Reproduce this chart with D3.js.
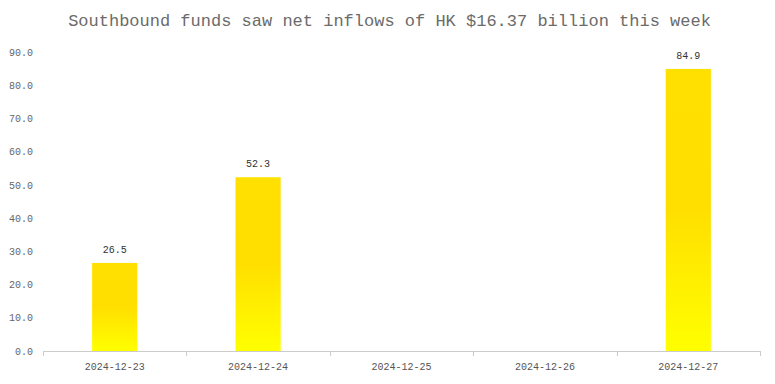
<!DOCTYPE html>
<html><head><meta charset="utf-8">
<script src="https://cdn.jsdelivr.net/npm/d3@7/dist/d3.min.js"></script>
<style>body{margin:0;background:#fff}svg{display:block}</style>
</head><body>
<svg id="c" width="775" height="384"></svg>
<script>
const titleText = "Southbound funds saw net inflows of HK $16.37 billion this week";
const categories = ["2024-12-23","2024-12-24","2024-12-25","2024-12-26","2024-12-27"];
const values = [26.5, 52.3, null, null, 84.9];
const yTicks = [0,10,20,30,40,50,60,70,80,90];

const svg = d3.select("#c");
const mono = "'Liberation Mono','DejaVu Sans Mono',monospace";
const m = {left:43, right:15, top:52, bottom:33};
const W = 775, H = 384;
const x = d3.scaleBand().domain(categories).range([m.left, W - m.right]).paddingInner(0).paddingOuter(0);
const y = d3.scaleLinear().domain([0,90]).range([H - m.bottom, m.top]);

const defs = svg.append("defs");
const g = defs.append("linearGradient").attr("id","gold").attr("x1",0).attr("y1",0).attr("x2",0).attr("y2",1);
g.append("stop").attr("offset","0%").attr("stop-color","#FFE000");
g.append("stop").attr("offset","50%").attr("stop-color","#FFDF00");
g.append("stop").attr("offset","100%").attr("stop-color","#FFFF00");

svg.append("text").attr("x", W/2 + 2).attr("y", 26).attr("text-anchor","middle")
  .attr("font-family", mono).attr("font-size", 17).attr("fill","#6b6b6b").text(titleText);

// y axis labels
const ya = svg.append("g").attr("transform",`translate(${m.left},0)`)
  .call(d3.axisLeft(y).tickValues(yTicks).tickFormat(d3.format(".1f")).tickSize(0).tickPadding(10));
ya.select(".domain").remove();
ya.selectAll("text").attr("font-family", mono).attr("font-size", 10).attr("fill","#666");

// x axis
const xa = svg.append("g").attr("transform",`translate(0,${H - m.bottom})`)
  .call(d3.axisBottom(x).tickSize(0).tickPadding(12));
xa.select(".domain").attr("stroke","#ccc").attr("d", `M${m.left},0.5H${W - m.right}`);
xa.selectAll("text").attr("font-family", mono).attr("font-size", 10).attr("fill","#555");
const bounds = categories.map(c => x(c)).concat([x(categories[categories.length-1]) + x.bandwidth()]);
xa.selectAll("line.b").data(bounds).enter().append("line").attr("class","b")
  .attr("x1", d => Math.round(d)+0.5).attr("x2", d => Math.round(d)+0.5).attr("y1",0).attr("y2",5).attr("stroke","#ccc");

const bw = x.bandwidth() * 0.315;
const data = categories.map((c,i)=>({c, v: values[i]})).filter(d => d.v != null);
svg.selectAll("rect.bar").data(data).enter().append("rect").attr("class","bar")
  .attr("x", d => x(d.c) + x.bandwidth()/2 - bw/2).attr("width", bw)
  .attr("y", d => y(d.v)).attr("height", d => y(0) - y(d.v)).attr("fill","url(#gold)");
svg.selectAll("text.lbl").data(data).enter().append("text").attr("class","lbl")
  .attr("x", d => x(d.c) + x.bandwidth()/2).attr("y", d => y(d.v) - 10)
  .attr("text-anchor","middle").attr("font-family", mono).attr("font-size", 10).attr("fill","#333")
  .text(d => d.v.toFixed(1));
</script>
</body></html>
